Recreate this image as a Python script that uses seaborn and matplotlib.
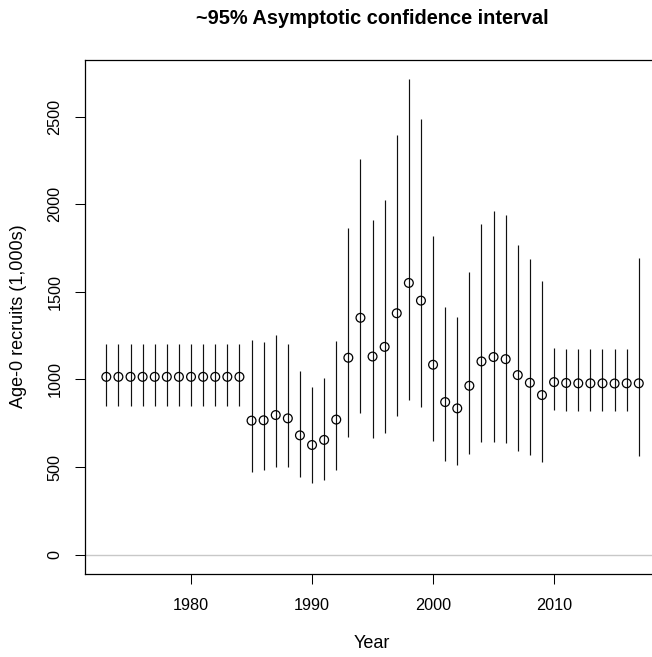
import matplotlib
matplotlib.use("Agg")
import matplotlib.pyplot as plt
import seaborn as sns
import pandas as pd

# Estimated age-0 recruits (1,000s) with ~95% asymptotic confidence bounds
years = list(range(1973, 2018))
recruits = [1015] * 12 + [
    765, 767, 797, 778, 681, 626, 655, 771, 1124, 1352, 1131, 1186, 1378,
    1551, 1450, 1084, 871, 835, 964, 1103, 1128, 1116, 1025, 981, 911,
    985, 980, 978, 978, 978, 977, 978, 978,
]
upper = [1205] * 12 + [
    1224, 1215, 1255, 1205, 1046, 957, 1008, 1221, 1864, 2259, 1910, 2022, 2398,
    2715, 2489, 1817, 1412, 1359, 1615, 1889, 1961, 1940, 1769, 1690, 1562,
    1179, 1175, 1175, 1175, 1175, 1175, 1175, 1691,
]
lower = [850] * 12 + [
    474, 482, 503, 499, 444, 408, 425, 486, 674, 809, 666, 697, 792,
    885, 845, 647, 535, 511, 573, 642, 645, 640, 592, 568, 528,
    824, 818, 818, 818, 818, 818, 818, 562,
]
xticks = [1980, 1990, 2000, 2010]
yticks = [0, 500, 1000, 1500, 2000, 2500]

df = pd.DataFrame({"Year": years, "Recruits": recruits, "Upper": upper, "Lower": lower})

sns.set_style("white")
plt.rcParams["font.family"] = ["Liberation Sans", "DejaVu Sans"]
plt.rcParams.update({"text.color": "black", "axes.labelcolor": "black",
                     "xtick.color": "black", "ytick.color": "black"})

fig = plt.figure(figsize=(6.52, 6.57), dpi=100)
ax = fig.add_axes([0.1304, 0.1268, 0.882, 0.7819])

# zero reference line, interval segments, then open point estimates
ax.axhline(0, color="#c8c8c8", lw=1.0, zorder=1)
ax.vlines(df["Year"], df["Lower"], df["Upper"], color="#111111", lw=0.85, zorder=2)
sns.scatterplot(data=df, x="Year", y="Recruits", ax=ax, marker="o", s=40,
                facecolor="none", edgecolor="black", linewidth=0.9, zorder=3)

ax.set_xlim(1971.24, 2018.76)
ax.set_ylim(-108.6, 2823.6)
ax.set_xticks(xticks)
ax.set_yticks(yticks)
ax.tick_params(axis="both", direction="out", length=7.2, width=0.75,
               labelsize=11.7, left=True, bottom=True)
ax.tick_params(axis="x", pad=10)
ax.tick_params(axis="y", pad=9)
for lab in ax.get_yticklabels():
    lab.set_rotation(90)
    lab.set_va("center")

for side in ["left", "bottom", "top", "right"]:
    ax.spines[side].set_visible(True)
    ax.spines[side].set_color("black")
    ax.spines[side].set_linewidth(0.9)

ax.set_xlabel("")
ax.set_ylabel("")
fig.text(372 / 652, 1 - 644 / 657, "Year", ha="center", va="center", fontsize=13)
fig.text(19 / 652, 1 - 316 / 657, "Age-0 recruits (1,000s)", rotation=90,
         ha="center", va="center", fontsize=13)
fig.text(372 / 652, 1 - 19 / 657, "~95% Asymptotic confidence interval",
         ha="center", va="center", fontsize=14.4, fontweight="bold")

fig.savefig("out.png", dpi=100)
